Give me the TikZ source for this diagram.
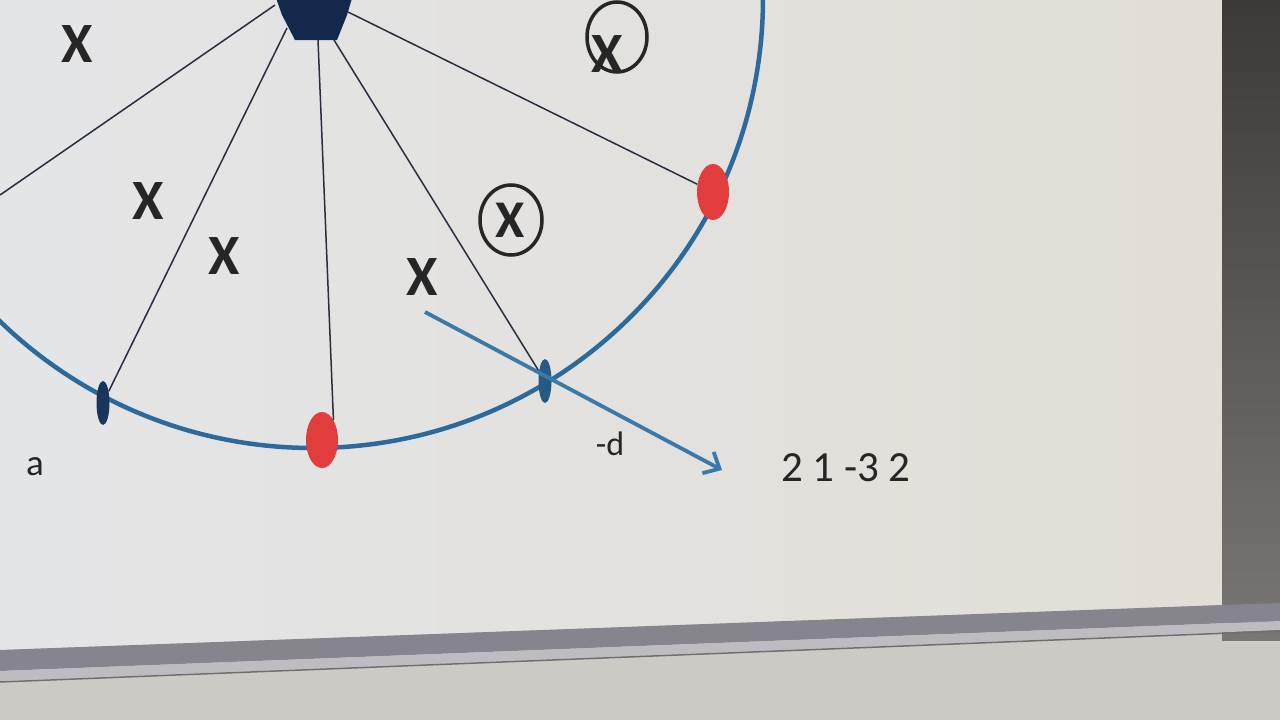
\documentclass[tikz,border=0pt]{standalone}
\usepackage{fontspec}
\setmainfont{Carlito}
\usetikzlibrary{shapes.geometric,arrows.meta}
\definecolor{paper}{HTML}{E3E1DC}
\definecolor{rimblue}{HTML}{2C6A9C}
\definecolor{arrblue}{HTML}{3A7AA8}
\definecolor{spokeink}{HTML}{2A2D40}
\definecolor{hubnavy}{HTML}{13294B}
\definecolor{dotred}{HTML}{E23C3C}
\begin{document}
\begin{tikzpicture}[x=1pt, y=-1pt,
  spoke/.style={draw=spokeink, line width=1.5pt},
  rim/.style={draw=rimblue, line width=4.5pt},
  tick/.style={ellipse, fill=#1, inner sep=0pt, minimum width=13pt, minimum height=44pt},
  dot/.style={ellipse, fill=dotred, inner sep=0pt, minimum width=32pt, minimum height=56pt},
  xmark/.style={text=black!85, inner sep=0pt, font=\fontsize{57}{57}\selectfont\bfseries},
  ring/.style={ellipse, draw=black!85, line width=3.5pt, inner sep=0pt},
  lbl/.style={text=black!85, inner sep=0pt}]
\useasboundingbox (0,0) rectangle (1280,720);
\clip (0,0) rectangle (1280,720);
% screen around the page
\fill[color={rgb,255:red,205;green,201;blue,196}] (0,0) rectangle (1280,720);
\shade[top color={rgb,255:red,60;green,57;blue,55}, bottom color={rgb,255:red,122;green,118;blue,118}] (1222,0) rectangle (1280,640);
\shade[left color={rgb,255:red,228;green,229;blue,231}, right color={rgb,255:red,226;green,222;blue,214}] (0,0) -- (1222,0) -- (1222,605) -- (0,650) -- cycle;
\fill[color={rgb,255:red,134;green,132;blue,140}] (0,650) -- (1222,605) -- (1280,603) -- (1280,621) -- (0,671) -- cycle;
\fill[color={rgb,255:red,190;green,188;blue,192}] (0,671) -- (1280,621) -- (1280,630) -- (0,681) -- cycle;
\draw[color={rgb,255:red,112;green,110;blue,114}, line width=1.5pt] (0,682) -- (1280,631);

% circle and hub
\draw[rim] (313,-2) circle[radius=450];
\fill[hubnavy] (275,-5) -- (353,-5) -- (347,15) -- (337,40) -- (295,40) -- (282,15) -- cycle;
\coordinate (h1) at (275,5);
\coordinate (h2) at (287,28);
\coordinate (h3) at (318,40);
\coordinate (h4) at (334,40);
\coordinate (h5) at (348,12);
\coordinate (edge) at (0,195);

% points on the circle
\node (tickL) at (103,403) [tick=hubnavy!80!rimblue] {};
\node (dotB) at (322,440) [dot] {};
\node (tickR) at (545,381) [tick=rimblue!85!black] {};
\node (dotR) at (713,192) [dot] {};

\draw[spoke] (h1) to (edge);
\draw[spoke] (h2) to (tickL);
\draw[spoke] (h3) to (dotB.north east);
\draw[spoke] (h4) to (tickR);
\draw[spoke] (h5) to (dotR);

% labels
\node (x1) at (77,44) [xmark] {X};
\node (x2) at (148,201) [xmark] {X};
\node (x3) at (224,256) [xmark] {X};
\node (x4) at (422,277) [xmark] {X};
\node (ringM) at (511,220) [ring, minimum width=62pt, minimum height=70pt] {};
\node (x5) at (510,220) [xmark, font=\fontsize{53}{53}\selectfont\bfseries] {X};
\node (ringT) at (617,37) [ring, minimum width=60pt, minimum height=70pt] {};
\node (x6) at (607,54) [xmark] {X};

\coordinate (arrS) at (425,312);
\coordinate (arrE) at (722,470);
\draw[draw=arrblue, line width=3.8pt, -{Straight Barb[length=13pt, width=24pt]}] (arrS) to (arrE);

\node (a) at (35,467) [lbl, font=\fontsize{37}{37}\selectfont] {a};
\node (d) at (610,444) [lbl, font=\fontsize{34}{34}\selectfont] {-d};
\node (row) at (846,468) [lbl, font=\fontsize{43}{43}\selectfont] {2 1 -3 2};
\end{tikzpicture}
\end{document}
